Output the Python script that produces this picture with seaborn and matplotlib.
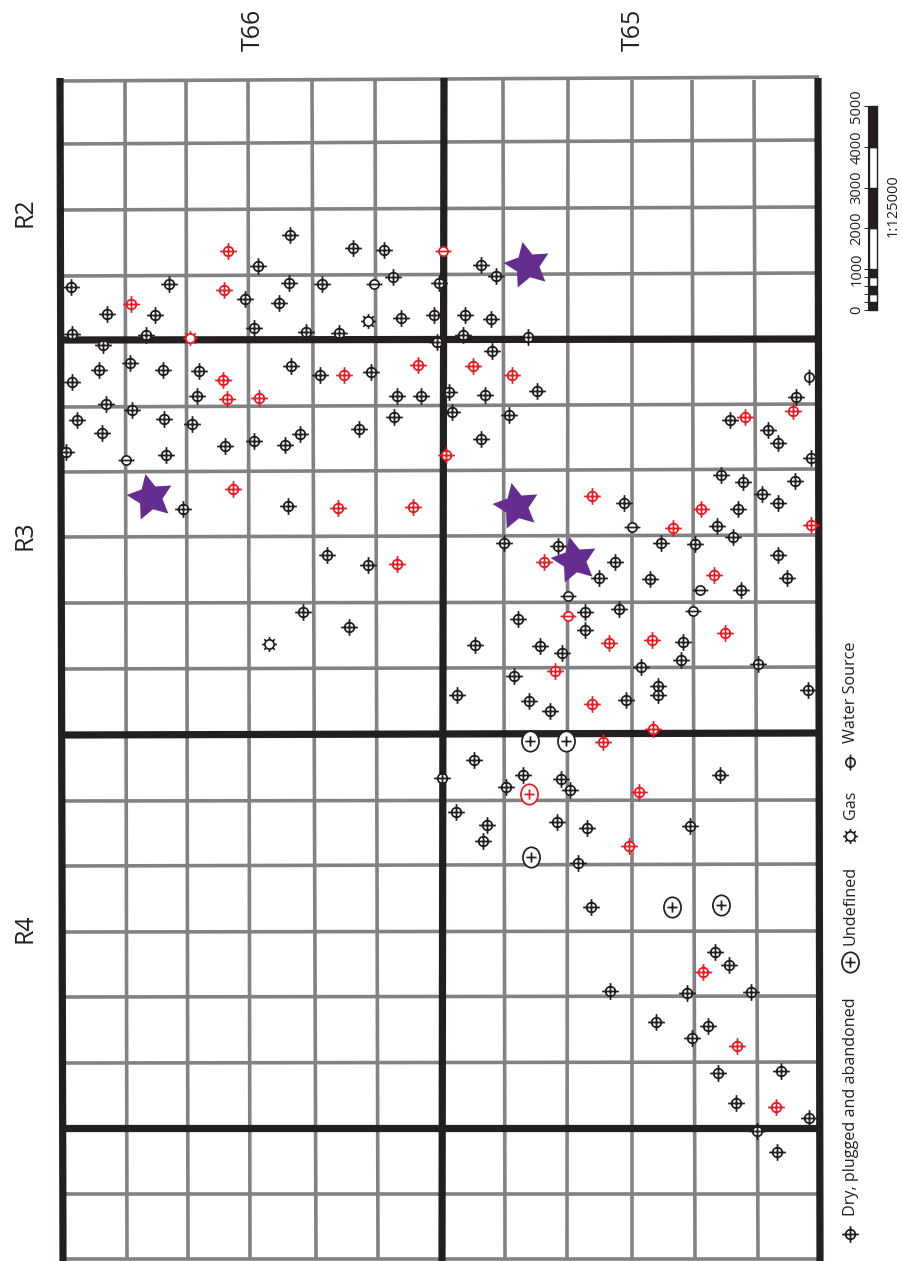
import numpy as np
import pandas as pd
import matplotlib
matplotlib.use("Agg")
import matplotlib.pyplot as plt
from matplotlib.path import Path
import seaborn as sns

# ---- township / range grid (page pixels) ----
h_left = [81, 144, 210, 276, 340, 407, 472, 537, 603, 669, 735, 801, 866, 932, 997, 1063, 1128, 1194, 1259]
h_right = [77, 140, 207, 273, 339, 404, 469, 535, 602, 667, 733, 800, 864, 931, 996, 1062, 1128, 1194, 1259]
h_thick = [340, 735, 1128]
v_top = [125, 186, 248, 312, 375, 503, 568, 632, 692, 754]
v_bottom = [127, 188, 250, 316, 378, 505, 567, 632, 695, 758]
v_thick_top = [60, 444, 818]
v_thick_bottom = [63, 442, 820]

# ---- wells ----
dry_x = [290, 353, 384, 258, 393, 439, 71, 169, 289, 322, 245, 279, 107, 155, 401, 434, 72, 146, 254, 306,
         339, 103, 437, 130, 99, 163, 199, 291, 320, 371, 72, 197, 397, 421, 449, 106, 132, 452, 77, 164,
         192, 394, 102, 300, 359, 254, 285, 225, 66, 166, 183, 288, 327, 368, 303, 349,
         481, 496, 465, 491, 463, 528, 492, 485, 537, 509, 481, 730, 768, 778, 796, 811, 721, 743, 762,
         778, 795, 624, 738, 717, 733, 504, 558, 661, 695, 615, 778, 599, 650, 787, 741, 585, 619, 518,
         585, 475, 540, 562, 683, 681, 641, 758, 514, 658, 658, 808,
         457, 529, 550, 626, 474, 442, 523, 506, 561, 570, 720, 456, 487, 483, 557, 587, 690, 578, 591,
         715, 729, 610, 687, 751, 656, 708, 692, 718, 781, 736, 809, 757, 777]
dry_y = [235, 248, 250, 266, 277, 283, 287, 284, 283, 284, 299, 303, 314, 315, 318, 315, 334, 335, 328, 332,
         333, 345, 342, 363, 370, 370, 371, 366, 375, 372, 382, 396, 396, 396, 392, 404, 410, 412, 420, 419,
         424, 417, 433, 434, 429, 441, 445, 446, 452, 455, 509, 506, 555, 565, 612, 627,
         265, 276, 315, 319, 335, 337, 351, 395, 391, 415, 439, 420, 430, 443, 397, 458, 475, 482, 494,
         503, 481, 503, 509, 526, 537, 543, 546, 543, 544, 562, 555, 578, 579, 578, 590, 612, 609, 619,
         630, 645, 646, 653, 642, 660, 667, 664, 676, 686, 695, 690,
         695, 701, 711, 700, 760, 778, 775, 787, 779, 790, 775, 812, 825, 841, 822, 828, 826, 863, 907,
         952, 965, 991, 993, 992, 1022, 1026, 1038, 1073, 1071, 1103, 1118, 1131, 1152]
dry_red_x = [228, 224, 131, 223, 227, 259, 344, 418, 446, 233, 338, 413, 397,
             473, 512, 745, 793, 592, 701, 673, 811, 544, 714, 725, 609, 652, 555,
             592, 653, 603, 639, 629, 703, 737, 776]
dry_red_y = [251, 290, 304, 380, 399, 398, 375, 365, 455, 489, 508, 507, 564,
             366, 375, 417, 411, 496, 509, 528, 525, 562, 575, 633, 643, 640, 671,
             704, 729, 742, 792, 846, 972, 1046, 1107]
bar_x = [374, 126, 632, 568, 700, 693]
bar_y = [284, 460, 527, 596, 590, 611]
bar_red_x = [443, 568]
bar_red_y = [251, 616]
source_x = [809]
source_y = [377]
gas_x = [368, 269]
gas_y = [321, 644]
gas_red_x = [190]
gas_red_y = [338]
undefined_x = [530, 566, 531, 672, 721]
undefined_y = [741, 741, 857, 907, 905]
undefined_red_x = [529]
undefined_red_y = [794]
star_x = [150, 527, 516, 574]
star_y = [497, 265, 506, 560]

# ---- scale bar and labels ----
scale_edges = [0, 200, 400, 600, 800, 1000, 2000, 3000, 4000, 5000]
scale_labels = [0, 1000, 2000, 3000, 4000, 5000]
range_labels = ["R2", "R3", "R4"]
range_y = [212, 535, 928]
township_labels = ["T66", "T65"]
township_x = [250, 630]
legend_labels = ["Dry, plugged and abandoned", "Undefined", "Gas", "Water Source"]
legend_text_y = [1107, 905, 805, 692]

BLACK = "#231f20"
GRAY = "#808285"
RED = "#ed1c24"
PURPLE = "#662d91"


def ring(r, sx=1.0):
    circle = Path.unit_circle()
    return Path(circle.vertices * [r * sx, r], circle.codes)


def segs(pairs):
    verts, codes = [], []
    for a, b in pairs:
        verts += [a, b]
        codes += [Path.MOVETO, Path.LINETO]
    return Path(verts, codes)


well_mark = Path.make_compound_path(ring(0.58), segs([((-1, 0), (1, 0)), ((0, -1), (0, 1))]))
bar_mark = Path.make_compound_path(ring(0.58), segs([((-1, 0), (1, 0))]))
source_mark = Path.make_compound_path(ring(0.58), segs([((0, -1), (0, 1))]))
undefined_mark = Path.make_compound_path(ring(1.0, 0.84), segs([((-0.5, 0), (0.5, 0)), ((0, -0.5), (0, 0.5))]))
spikes = [((0.62 * np.cos(a), 0.62 * np.sin(a)), (np.cos(a), np.sin(a))) for a in np.arange(8) * np.pi / 4]
gas_mark = Path.make_compound_path(ring(0.62), segs(spikes))

sns.set_theme(style="white")
plt.rcParams["font.family"] = ["Open Sans", "DejaVu Sans"]

fig, ax = plt.subplots(figsize=(9.03, 12.61), dpi=100)
ax.set_position([0, 0, 1, 1])

# grid lines, long form so seaborn can draw each as a unit
rows = []
for i, (yl, yr) in enumerate(zip(h_left, h_right)):
    kind = "thick" if yl in h_thick else "thin"
    rows += [("h%d" % i, kind, 60, yl), ("h%d" % i, kind, 819, yr)]
for i, (xt, xb) in enumerate(zip(v_top, v_bottom)):
    rows += [("v%d" % i, "thin", xt, 80), ("v%d" % i, "thin", xb, 1259)]
for i, (xt, xb) in enumerate(zip(v_thick_top, v_thick_bottom)):
    rows += [("t%d" % i, "thick", xt, 78), ("t%d" % i, "thick", xb, 1261)]
grid = pd.DataFrame(rows, columns=["line", "kind", "x", "y"])

sns.lineplot(data=grid[grid.kind == "thin"], x="x", y="y", units="line", estimator=None, sort=False,
             color=GRAY, linewidth=2.6, solid_capstyle="butt", ax=ax, legend=False)
sns.lineplot(data=grid[grid.kind == "thick"], x="x", y="y", units="line", estimator=None, sort=False,
             color=BLACK, linewidth=5.2, solid_capstyle="butt", ax=ax, legend=False)


def wells(x, y, marker, color, size):
    sns.scatterplot(x=x, y=y, marker=marker, s=size, color="white", edgecolor=color,
                    linewidth=1.25, ax=ax, legend=False, zorder=5)


wells(dry_x, dry_y, well_mark, BLACK, 145)
wells(dry_red_x, dry_red_y, well_mark, RED, 145)
wells(bar_x, bar_y, bar_mark, BLACK, 130)
wells(bar_red_x, bar_red_y, bar_mark, RED, 130)
wells(source_x, source_y, source_mark, BLACK, 130)
wells(gas_x, gas_y, gas_mark, BLACK, 115)
wells(gas_red_x, gas_red_y, gas_mark, RED, 115)
wells(undefined_x, undefined_y, undefined_mark, BLACK, 215)
wells(undefined_red_x, undefined_red_y, undefined_mark, RED, 215)
sns.scatterplot(x=star_x, y=star_y, marker=(5, 1, 12), s=1200, color=PURPLE, linewidth=0,
                ax=ax, legend=False, zorder=6)

# labels
for label, y in zip(range_labels, range_y):
    ax.text(25, y, label, rotation=90, ha="center", va="center", fontsize=18, color=BLACK)
for label, x in zip(township_labels, township_x):
    ax.text(x + 3, 30, label, rotation=90, ha="center", va="center", fontsize=18, color=BLACK)

# legend column
legend_marks = [well_mark, undefined_mark, gas_mark, source_mark]
legend_sizes = [145, 215, 115, 130]
legend_mark_y = [1234, 962, 836, 762]
for label, ty, mark, size, my in zip(legend_labels, legend_text_y, legend_marks, legend_sizes, legend_mark_y):
    ax.text(851, ty, label, rotation=90, ha="center", va="center", fontsize=11.6, color=BLACK)
    wells([850], [my], mark, BLACK, size)

# scale bar
to_page = lambda d: 310 - d * 0.0408
for i, (a, b) in enumerate(zip(scale_edges[:-1], scale_edges[1:])):
    ax.fill_between([869, 877], to_page(a), to_page(b), facecolor=BLACK if i % 2 == 0 else "white",
                    edgecolor=BLACK, linewidth=1.0)
ax.vlines(868, to_page(0), to_page(5000), color=BLACK, linewidth=0.8)
ax.hlines([to_page(d) for d in scale_edges], 864, 869, color=BLACK, linewidth=0.7)
for d in scale_labels:
    ax.text(857, to_page(d), str(d), rotation=90, ha="center", va="center", fontsize=10.5, color=BLACK)
ax.text(893, 206, "1:125000", rotation=90, ha="center", va="center", fontsize=10.5, color=BLACK)

ax.set_xlim(0, 903)
ax.set_ylim(1261, 0)
ax.set_axis_off()

fig.savefig("out.png", dpi=100, facecolor="white")
